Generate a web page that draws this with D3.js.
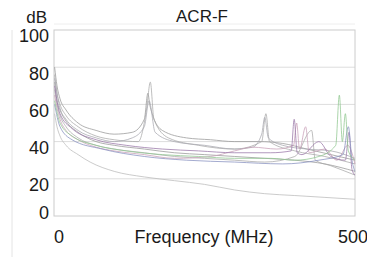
<!DOCTYPE html>
<html>
<head>
<meta charset="utf-8">
<script src="https://cdn.jsdelivr.net/npm/d3@7"></script>
<style>
  body { margin: 0; background: #fff; }
  text { font-family: "Liberation Sans", Arial, sans-serif; fill: #1a1a1a; }
</style>
</head>
<body>
<svg width="367" height="257"></svg>
<script>
// ACR-F curves, [frequency MHz, dB]
var pairA = [[1,80],[5,70],[10,63],[20,57],[40,50],[70,46],[100,44],[130,45],[150,52],[156,66],[159,60],[163,55],[180,46],[220,42],[260,41],[300,40],[340,40],[380,39],[420,36],[460,33],[500,30]];
var pairB = [[1,76],[5,66],[10,60],[20,54],[40,48],[70,43],[100,41],[140,40],[154,58],[160,72],[166,52],[190,42],[240,38],[300,36],[345,40],[352,55],[358,40],[400,35],[450,32],[500,28]];
var pairC = [[1,72],[5,62],[10,57],[20,51],[40,45],[70,40],[100,38],[150,36],[200,34],[250,33],[300,32],[350,31],[400,30],[450,28],[500,24]];
var pairD = [[1,68],[5,60],[10,54],[20,48],[40,42],[70,38],[100,36],[150,34],[200,32],[250,31],[300,30],[350,29],[400,32],[428,46],[434,30],[460,27],[500,22]];
var pairE = [[1,65],[5,58],[10,52],[20,46],[40,41],[70,37],[100,35],[150,33],[200,31],[260,32],[300,35],[330,37],[370,36],[398,38],[403,50],[408,36],[418,48],[424,34],[450,36],[470,30],[488,38],[500,28]];
var pairF = [[1,70],[10,55],[30,47],[70,41],[120,38],[180,36],[240,35],[300,34],[360,34],[394,35],[399,52],[404,34],[412,33],[440,40],[460,32],[484,30],[490,45],[495,25],[500,22]];
var pairG = [[1,62],[10,50],[30,43],[70,38],[120,35],[180,33],[240,32],[300,31],[360,31],[400,30],[440,32],[468,38],[474,65],[479,40],[484,55],[489,35],[500,30]];
var pairH = [[1,60],[10,48],[30,41],[80,36],[150,32],[220,30],[300,29],[380,28],[440,30],[480,33],[489,48],[495,30],[500,24]];
var pairI = [[1,55],[5,48],[10,43],[20,38],[40,33],[60,29],[100,24],[150,21],[200,19],[250,17],[300,14],[350,12],[400,11],[450,10],[500,9]];
var pairJ = [[1,74],[10,58],[20,52],[40,46],[70,42],[100,40],[130,42],[150,48],[158,62],[168,45],[200,40],[250,38],[300,36],[330,37],[345,44],[350,53],[356,42],[380,38],[420,36],[460,35],[500,31]];

var series = [pairI, pairC, pairD, pairA, pairB, pairJ, pairE, pairF, pairH, pairG];
var colors = ["#bbb", "#999", "#aaa", "#999", "#aaa", "#a8a8b0", "#c8a0b8", "#9a78a8", "#8890c0", "#90c890"];

var yTicks = [0, 20, 40, 60, 80, 100];
var xTicks = [0, 500];

var svg = d3.select("svg"),
    margin = {top: 30, right: 12, bottom: 41, left: 54},
    width = +svg.attr("width") - margin.left - margin.right,
    height = +svg.attr("height") - margin.top - margin.bottom;

var x = d3.scaleLinear().domain([0, 500]).range([margin.left, margin.left + width]);
var y = d3.scaleLinear().domain([0, 100]).range([margin.top + height, margin.top]);

// faint outer lines
svg.append("line").attr("x1", 12).attr("x2", 12).attr("y1", 30).attr("y2", 257)
    .attr("stroke", "#e4e4e4");
svg.append("line").attr("x1", x(0)).attr("x2", x(500)).attr("y1", 24).attr("y2", 24)
    .attr("stroke", "#eee");

// grid
svg.append("g").selectAll("line")
    .data(yTicks.slice(1, -1))
    .enter().append("line")
    .attr("x1", x(0)).attr("x2", x(500))
    .attr("y1", function (d) { return y(d); })
    .attr("y2", function (d) { return y(d); })
    .attr("stroke", "#ddd");

svg.append("rect")
    .attr("x", x(0)).attr("y", y(100))
    .attr("width", x(500) - x(0)).attr("height", y(0) - y(100))
    .attr("fill", "none").attr("stroke", "#ccc");

var line = d3.line()
    .x(function (d) { return x(d[0]); })
    .y(function (d) { return y(d[1]); })
    .curve(d3.curveMonotoneX);

svg.append("g").selectAll("path")
    .data(series)
    .enter().append("path")
    .attr("d", line)
    .attr("fill", "none")
    .attr("stroke", function (d, i) { return colors[i]; })
    .attr("stroke-width", 0.9)
    .attr("stroke-opacity", 0.85);

// y labels
svg.append("g").selectAll("text")
    .data(yTicks)
    .enter().append("text")
    .attr("x", 49)
    .attr("y", function (d) { return Math.min(y(d) + 6, 213); })
    .attr("dy", "0.35em")
    .attr("text-anchor", "end")
    .style("font-size", "18px")
    .text(function (d) { return d; });

svg.append("text").attr("x", 47).attr("y", 23).attr("text-anchor", "end")
    .style("font-size", "17px").text("dB");

svg.append("text").attr("x", 202).attr("y", 22).attr("text-anchor", "middle")
    .style("font-size", "17px").text("ACR-F");

// x labels
svg.append("g").selectAll("text")
    .data(xTicks)
    .enter().append("text")
    .attr("x", function (d) { return d === 0 ? x(d) + 5 : x(d) - 2; })
    .attr("y", 243)
    .attr("text-anchor", "middle")
    .style("font-size", "18px")
    .text(function (d) { return d; });

svg.append("text").attr("x", 204).attr("y", 243).attr("text-anchor", "middle")
    .style("font-size", "18px").text("Frequency (MHz)");
</script>
</body>
</html>
